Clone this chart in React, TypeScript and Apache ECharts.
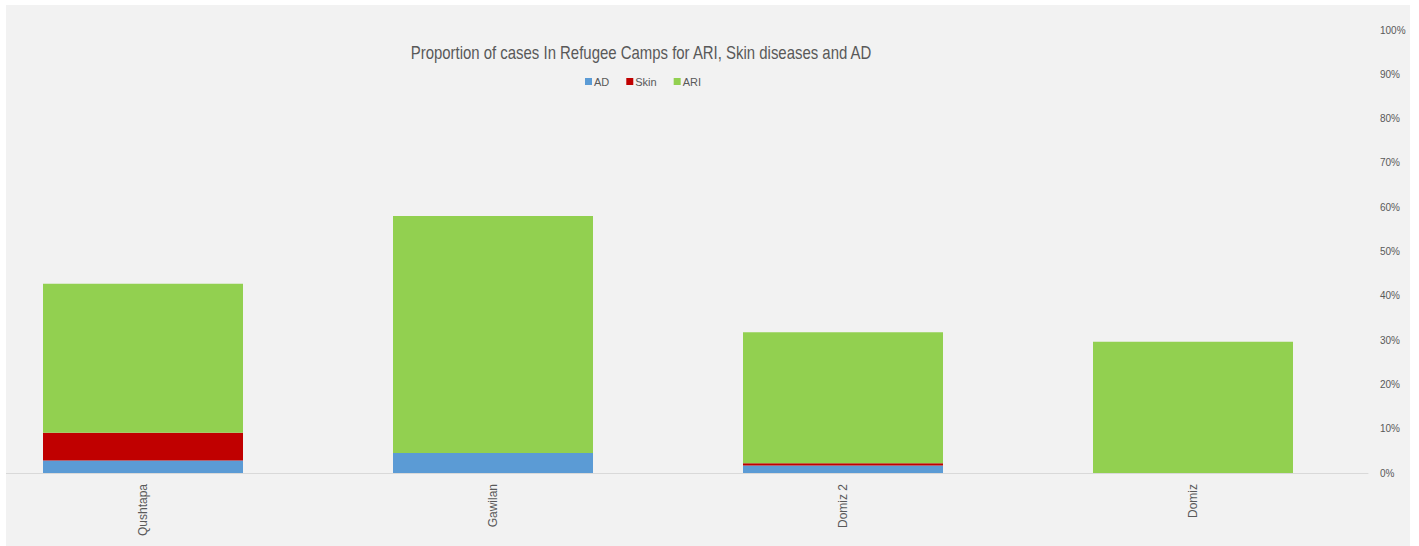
import React, { useEffect, useRef } from "react";
import * as echarts from "echarts";

const categories = ["Qushtapa", "Gawilan", "Domiz 2", "Domiz"];
const adValues = [2.8, 4.5, 1.7, 0];
const skinValues = [6.3, 0, 0.5, 0];
const ariValues = [33.6, 53.5, 29.6, 29.6];
const titleText = "Proportion of cases In Refugee Camps for ARI, Skin diseases and AD";

const FONT = "'Liberation Sans', Arial, sans-serif";
const SHIFT = 38; // chart canvas extends off-page to the left

export default function App() {
  const ref = useRef<HTMLDivElement>(null);
  useEffect(() => {
    if (!ref.current) return;
    const chart = echarts.init(ref.current, undefined, { renderer: "svg" });
    chart.setOption({
      animation: false,
      backgroundColor: "#ffffff",
      textStyle: { fontFamily: FONT },
      graphic: [
        {
          type: "rect",
          z: -10,
          silent: true,
          shape: { x: 6 + SHIFT, y: 5, width: 1404, height: 541 },
          style: { fill: "#f2f2f2" },
        },
        {
          type: "text",
          x: 641 + SHIFT,
          y: 53,
          z: 10,
          scaleX: 0.83,
          style: {
            text: titleText,
            fontFamily: FONT,
            fontSize: 18,
            fill: "#595959",
            textAlign: "center",
            textVerticalAlign: "middle",
          },
        },
        {
          type: "rect",
          z: 100,
          silent: true,
          shape: { x: 0, y: 0, width: 6 + SHIFT, height: 546 },
          style: { fill: "#ffffff" },
        },
      ],
      legend: {
        left: 585 + SHIFT,
        top: 76,
        padding: 0,
        itemWidth: 7,
        itemHeight: 7,
        itemGap: 17,
        icon: "rect",
        textStyle: { fontFamily: FONT, fontSize: 11, color: "#595959", padding: [0, 0, 0, -3] },
        data: ["AD", "Skin", "ARI"],
      },
      grid: { left: 6, right: 51, top: 30, bottom: 73, containLabel: false },
      xAxis: {
        type: "category",
        data: categories,
        axisLine: { show: true, lineStyle: { color: "#d9d9d9", width: 1 } },
        axisTick: { show: false },
        axisLabel: {
          rotate: 90,
          margin: 11,
          fontFamily: FONT,
          fontSize: 12,
          color: "#595959",
        },
      },
      yAxis: {
        type: "value",
        position: "right",
        min: 0,
        max: 100,
        interval: 10,
        splitLine: { show: false },
        axisLine: { show: false },
        axisTick: { show: false },
        axisLabel: {
          formatter: "{value}%",
          margin: 12,
          fontFamily: FONT,
          fontSize: 10,
          color: "#595959",
        },
      },
      series: [
        { name: "AD", type: "bar", stack: "total", data: adValues, barWidth: 200, itemStyle: { color: "#5b9bd5" } },
        { name: "Skin", type: "bar", stack: "total", data: skinValues, barWidth: 200, itemStyle: { color: "#c00000" } },
        { name: "ARI", type: "bar", stack: "total", data: ariValues, barWidth: 200, itemStyle: { color: "#92d050" } },
      ],
    });
    return () => chart.dispose();
  }, []);
  return (
    <div
      ref={ref}
      style={{ position: "fixed", left: -SHIFT, top: 0, width: 1419 + SHIFT, height: 546 }}
    />
  );
}
